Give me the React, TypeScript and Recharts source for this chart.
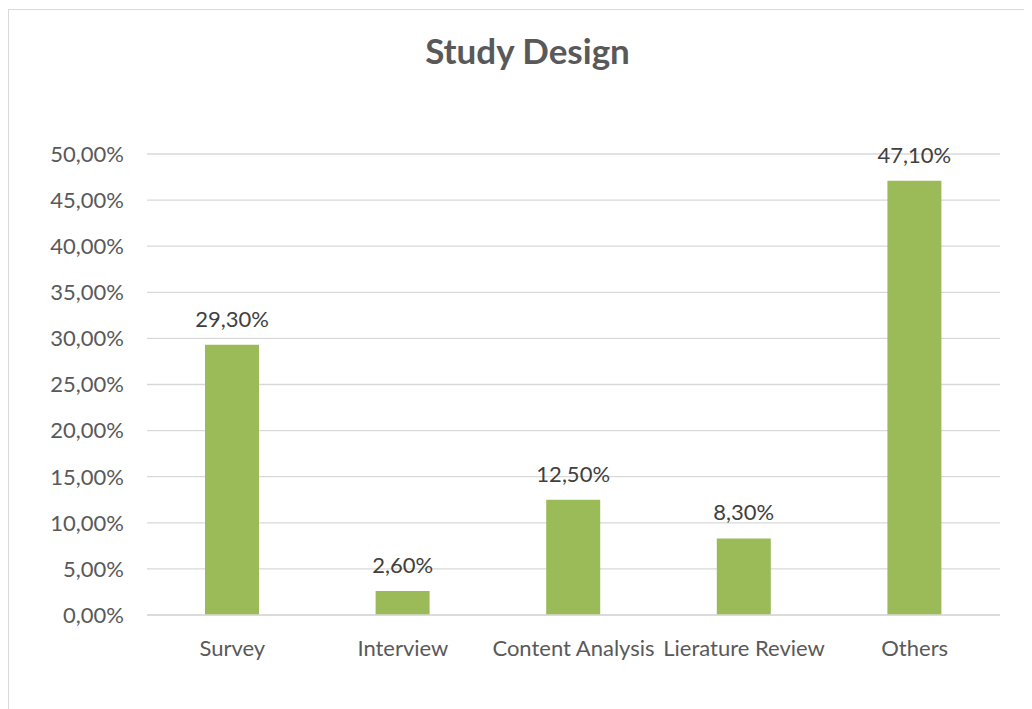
import { BarChart, Bar, XAxis, YAxis, CartesianGrid, LabelList } from 'recharts';

const categories = ['Survey', 'Interview', 'Content Analysis', 'Lierature Review', 'Others'];
const shares = [29.3, 2.6, 12.5, 8.3, 47.1];
const yTicks = [0, 5, 10, 15, 20, 25, 30, 35, 40, 45, 50];

const fmt = (v: number) => v.toFixed(2).replace('.', ',') + '%';

const data = categories.map((name, i) => ({ name, value: shares[i] }));

const FONT = 'Lato, "Open Sans", sans-serif';

export default function App() {
  return (
    <div
      style={{
        position: 'relative',
        width: 1024,
        height: 700,
        marginTop: 1,
        boxSizing: 'border-box',
        borderLeft: '1px solid #d9d9d9',
        borderTop: '1px solid #d9d9d9',
        fontFamily: FONT,
      }}
    >
      <div
        style={{
          position: 'absolute',
          left: 0,
          top: 23,
          width: 1037,
          textAlign: 'center',
          fontSize: 35,
          lineHeight: '35px',
          fontWeight: 'bold',
          color: '#595959',
        }}
      >
        Study Design
      </div>
      <BarChart
        width={1023}
        height={690}
        data={data}
        margin={{ top: 144, right: 32, left: 0, bottom: 0 }}
        barCategoryGap={0}
      >
        <CartesianGrid vertical={false} stroke="#d9d9d9" strokeWidth={1.3} />
        <XAxis
          dataKey="name"
          height={85}
          axisLine={{ stroke: '#d9d9d9', strokeWidth: 1.3 }}
          tickLine={false}
          tickSize={0}
          tickMargin={25}
          tick={{ fill: '#595959', fontSize: 22, fontFamily: FONT }}
          interval={0}
        />
        <YAxis
          width={138}
          domain={[0, 50]}
          ticks={yTicks}
          tickFormatter={fmt}
          axisLine={false}
          tickLine={false}
          tickSize={0}
          tickMargin={23}
          tick={{ fill: '#595959', fontSize: 22, fontFamily: FONT }}
        />
        <Bar dataKey="value" fill="#9bbb59" barSize={54} isAnimationActive={false}>
          <LabelList
            dataKey="value"
            position="top"
            offset={18}
            formatter={(v: any) => fmt(Number(v))}
            style={{ fill: '#404040', fontSize: 22, fontFamily: FONT }}
          />
        </Bar>
      </BarChart>
    </div>
  );
}
